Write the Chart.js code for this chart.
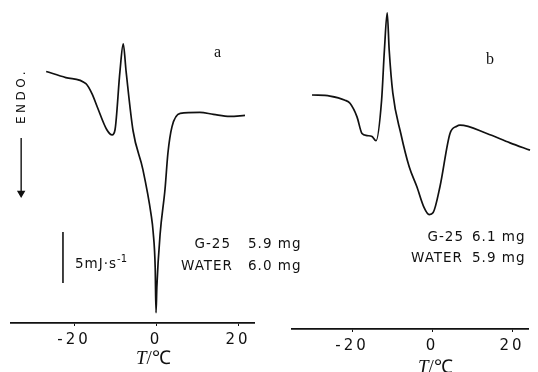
<!DOCTYPE html>
<html>
<head>
<meta charset="utf-8">
<script src="https://cdn.jsdelivr.net/npm/chart.js@4.4.1/dist/chart.umd.min.js"></script>
<style>
  body { margin: 0; background: #fff; }
  #wrap { position: relative; width: 538px; height: 372px; overflow: hidden; font-family: "DejaVu Sans", sans-serif; color: #111; }
  .box { position: absolute; top: 0; height: 372px; }
  .t { position: absolute; white-space: nowrap; line-height: 1; }
  .lab { font-size: 13.5px; letter-spacing: 1px; }
  .name { text-align: right; }
  .ttl { font-family: "Liberation Serif", serif; font-size: 19px; }
</style>
</head>
<body>
<div id="wrap">
  <div class="box" style="left:0;width:270px"><canvas id="ChartA"></canvas></div>
  <div class="box" style="left:270px;width:268px"><canvas id="ChartB"></canvas></div>

  <div class="t ttl" style="left:214px;top:44px;font-size:16px">a</div>
  <div class="t ttl" style="left:486px;top:51px;font-size:16px">b</div>

  <div class="t lab" style="left:-9px;top:90px;font-size:12px;letter-spacing:3.5px;transform:rotate(-90deg);width:60px;text-align:center">ENDO.</div>
  <div class="t lab" style="left:75px;top:254px">5mJ·s<sup style="font-size:10px;letter-spacing:0">-1</sup></div>

  <div class="t lab name" style="left:150px;width:81px;top:237px">G-25</div>
  <div class="t lab" style="left:248px;top:237px">5.9 mg</div>
  <div class="t lab name" style="left:150px;width:83px;top:259px">WATER</div>
  <div class="t lab" style="left:248px;top:259px">6.0 mg</div>

  <div class="t lab name" style="left:380px;width:84px;top:230px">G-25</div>
  <div class="t lab" style="left:472px;top:230px">6.1 mg</div>
  <div class="t lab name" style="left:380px;width:83px;top:251px">WATER</div>
  <div class="t lab" style="left:472px;top:251px">5.9 mg</div>

  <div class="t ttl" style="left:136px;top:348px"><i>T</i>/℃</div>
  <div class="t ttl" style="left:418px;top:357px"><i>T</i>/℃</div>
</div>
<script>
// sample a (G-25 5.9 mg, water 6.0 mg): temperature / heat flow in mJ/s (offset)
const tempA = [-26.8, -22, -17.1, -15.6, -14.4, -12.0, -10.7, -10.0, -8.8, -8.0, -7.3, -5.6, -3.2, -1.2, -0.7, -0.2, 0, 0.2, 1.0, 2.2, 2.9, 3.9, 5.9, 10.7, 14, 18.0, 21.7];
const flowA = [24.6, 24.0, 23.4, 22.4, 21.2, 18.9, 18.4, 18.9, 24.6, 27.3, 24.6, 18.8, 15.0, 10.6, 8.9, 5.4, 1.0, 3.5, 8.7, 13.1, 16.6, 19.2, 20.5, 20.6, 20.4, 20.2, 20.3];

// sample b (G-25 6.1 mg, water 5.9 mg)
const tempB = [-30, -25.5, -21.75, -20.5, -18.75, -17.5, -16.25, -15, -14, -12.6, -11.9, -11.2, -10.7, -9.8, -7.8, -5.7, -3.8, -2, -0.7, 0.3, 2, 4.5, 6.2, 7, 13.7, 19.5, 24.5];
const flowB = [22.5, 22.4, 22.0, 21.7, 20.4, 18.8, 18.6, 18.5, 18.1, 22.0, 26.8, 30.4, 26.8, 22.7, 18.8, 15.6, 13.7, 11.7, 11.0, 11.2, 13.7, 18.8, 19.5, 19.6, 18.8, 17.9, 17.2];

const tickValues = [-20, 0, 20];

// 5 mJ/s scale bar and ENDO arrow (panel a)
const scaleBarT = [-22.7, -22.7];
const scaleBarY = [3.9, 8.9];
const arrowT = [-32.9, -32.9];
const arrowY = [18.1, 12.7];

const ink = "#111";

function pts(xs, ys) {
    return xs.map((x, i) => ({ x: x, y: ys[i] }));
}

const spacing = {
    id: "spacing",
    beforeDraw(chart) { chart.ctx.letterSpacing = "3px"; }
};

function makeChart(el, data, extra, xmin, xmax, ymax, pad, axisH) {
    return new Chart(el, {
        type: "scatter",
        data: {
            datasets: [{
                data: data,
                showLine: true,
                borderColor: ink,
                borderWidth: 1.7,
                pointRadius: 0,
                cubicInterpolationMode: "monotone",
                clip: false
            }].concat(extra)
        },
        options: {
            responsive: true,
            maintainAspectRatio: false,
            animation: false,
            layout: { padding: pad },
            plugins: { legend: { display: false }, tooltip: { enabled: false } },
            scales: {
                x: {
                    type: "linear",
                    min: xmin,
                    max: xmax,
                    afterBuildTicks: s => { s.ticks = tickValues.map(v => ({ value: v })); },
                    afterFit: s => { s.height = axisH; },
                    grid: { drawOnChartArea: false, tickLength: 3, color: ink },
                    border: { display: true, color: ink, width: 1.7 },
                    ticks: { color: ink, padding: 5, maxRotation: 0, font: { family: "DejaVu Sans", size: 15 } }
                },
                y: { display: false, min: 0, max: ymax }
            }
        },
        plugins: [spacing]
    });
}

makeChart(document.getElementById("ChartA"), pts(tempA, flowA), [{
    data: pts(scaleBarT, scaleBarY),
    showLine: true, borderColor: ink, borderWidth: 1.6, pointRadius: 0
}, {
    data: pts(arrowT, arrowY),
    showLine: true, borderColor: ink, borderWidth: 1.4,
    pointRadius: [0, 3.5], pointStyle: "triangle", rotation: 180,
    pointBackgroundColor: ink, pointBorderColor: ink
}], -35.5, 24, 323 / 10.4, { left: 10.5, right: 15.6, top: 0, bottom: 0 }, 49);

makeChart(document.getElementById("ChartB"), pts(tempB, flowB), [],
    -35, 24, 329 / 10.4, { left: 22, right: 10, top: 0, bottom: 0 }, 43);
</script>
</body>
</html>
